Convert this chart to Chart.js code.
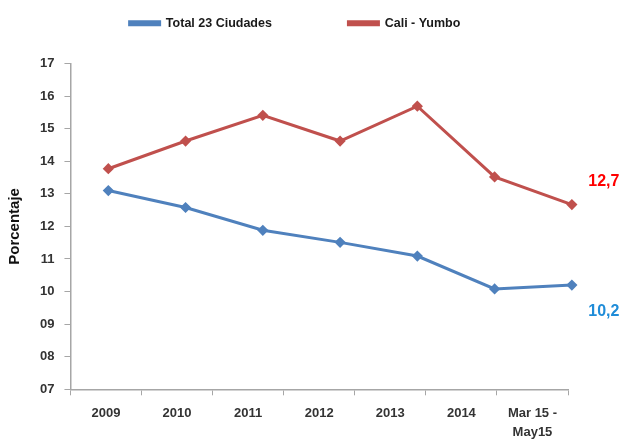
<!DOCTYPE html>
<html>
<head>
<meta charset="utf-8">
<script src="https://cdn.jsdelivr.net/npm/chart.js@4/dist/chart.umd.min.js"></script>
<style>
  html, body { margin: 0; padding: 0; background: #fff; }
  #wrap { width: 625px; height: 443px; position: relative; }
</style>
</head>
<body>
<div id="wrap"><canvas id="chart"></canvas></div>
<script>
const categories = ["2009", "2010", "2011", "2012", "2013", "2014", ["Mar 15 -", "May15"]];
const total23 = [13.1, 12.58, 11.88, 11.51, 11.09, 10.08, 10.2];
const caliYumbo = [13.77, 14.62, 15.41, 14.62, 15.69, 13.52, 12.67];
const endLabels = ["10,2", "12,7"];
const yTicks = [7, 8, 9, 10, 11, 12, 13, 14, 15, 16, 17];

const tickFont = { family: "Liberation Sans", size: 13, weight: "bold", lineHeight: 1.45 };

// labels next to the last point of each line
const endLabelPlugin = {
    id: "endLabels",
    afterDatasetsDraw(chart) {
        const ctx = chart.ctx;
        const styles = [
            { color: "#1F8CD8", dx: 32, dy: 27 },
            { color: "#FF0000", dx: 32, dy: -23 }
        ];
        chart.data.datasets.forEach((ds, i) => {
            const meta = chart.getDatasetMeta(i);
            const pt = meta.data[meta.data.length - 1];
            ctx.save();
            ctx.font = "bold 16px 'Liberation Sans'";
            ctx.fillStyle = styles[i].color;
            ctx.textAlign = "center";
            ctx.textBaseline = "middle";
            ctx.fillText(endLabels[i], pt.x + styles[i].dx, pt.y + styles[i].dy);
            ctx.restore();
        });
    }
};

// extra space under the legend, and nudge it a little to the right
const legendTweak = {
    id: "legendTweak",
    beforeInit(chart) {
        const legend = chart.legend;
        const fit = legend.fit;
        const draw = legend.draw;
        legend.fit = function () {
            fit.call(legend);
            this.height += 24;
        };
        legend.draw = function () {
            chart.ctx.save();
            chart.ctx.translate(8, 0);
            draw.call(legend);
            chart.ctx.restore();
        };
    }
};

const toPoints = (arr) => arr.map((v, i) => ({ x: i, y: v }));

new Chart(document.getElementById("chart"), {
    type: "line",
    data: {
        datasets: [
            {
                label: "Total 23 Ciudades",
                data: toPoints(total23),
                borderColor: "#4F81BD",
                backgroundColor: "#4F81BD",
                borderWidth: 3,
                pointStyle: "rectRot",
                pointRadius: 3.5,
                tension: 0,
                xAxisID: "x",
                clip: false
            },
            {
                label: "Cali - Yumbo",
                data: toPoints(caliYumbo),
                borderColor: "#C0504D",
                backgroundColor: "#C0504D",
                borderWidth: 3,
                pointStyle: "rectRot",
                pointRadius: 3.5,
                tension: 0,
                xAxisID: "x",
                clip: false
            }
        ]
    },
    options: {
        responsive: true,
        maintainAspectRatio: false,
        animation: false,
        layout: { padding: { left: 6, right: 57, top: 3, bottom: -8 } },
        plugins: {
            legend: {
                position: "top",
                labels: {
                    boxWidth: 30,
                    boxHeight: 3,
                    padding: 14,
                    color: "#1a1a1a",
                    font: { family: "Liberation Sans", size: 12.5, weight: "bold" },
                    generateLabels: (chart) => {
                        const items = Chart.defaults.plugins.legend.labels.generateLabels(chart);
                        // widen the gap between the two entries
                        items[0].text = items[0].text + " ".repeat(18);
                        return items;
                    }
                }
            },
            tooltip: { enabled: false }
        },
        scales: {
            x: {
                type: "linear",
                min: -0.49,
                max: 5.95,
                display: false
            },
            xCat: {
                type: "category",
                labels: categories,
                position: "bottom",
                offset: true,
                grid: {
                    offset: true,
                    drawOnChartArea: false,
                    drawTicks: true,
                    tickLength: 6,
                    color: "#A6A6A6"
                },
                border: { color: "#A6A6A6", width: 1.5 },
                ticks: { color: "#333", font: tickFont, padding: 9, maxRotation: 0 }
            },
            y: {
                min: 7,
                max: 17,
                afterBuildTicks: (axis) => { axis.ticks = yTicks.map((v) => ({ value: v })); },
                grid: {
                    drawOnChartArea: false,
                    drawTicks: true,
                    tickLength: 6,
                    color: "#A6A6A6"
                },
                border: { color: "#A6A6A6", width: 1.5 },
                ticks: {
                    color: "#333",
                    font: tickFont,
                    padding: 10,
                    callback: (v) => (v < 10 ? "0" + v : "" + v)
                },
                title: {
                    display: true,
                    text: "Porcentaje",
                    color: "#111",
                    font: { family: "Liberation Sans", size: 15, weight: "bold" },
                    padding: { top: 0, bottom: 6 }
                }
            }
        }
    },
    plugins: [endLabelPlugin, legendTweak]
});
</script>
</body>
</html>
